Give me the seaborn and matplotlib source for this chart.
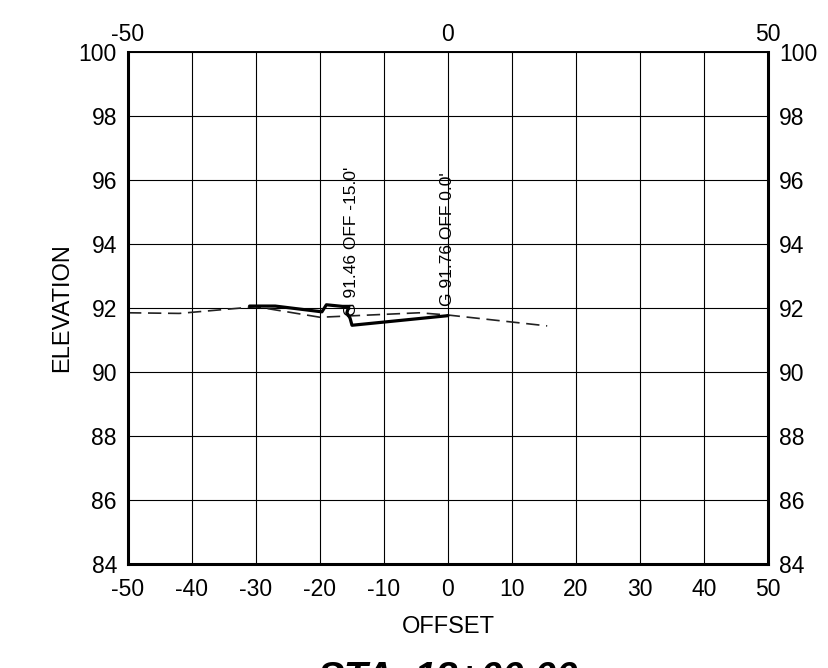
import numpy as np
import pandas as pd
import matplotlib
matplotlib.use("Agg")
import matplotlib.pyplot as plt
import seaborn as sns


# -------------------------
# Data (read off the section)
# -------------------------
existing_offset = [-50, -42, -30, -20, -4.5, 0, 15.5]
existing_elev = [91.85, 91.83, 92.04, 91.71, 91.85, 91.78, 91.44]

proposed_offset = [-31, -27, -19.7, -19, -16.5, -15.5, -15.8, -15.3, -15.0, 0]
proposed_elev = [92.06, 92.06, 91.88, 92.10, 92.05, 92.05, 91.85, 91.68, 91.46, 91.76]

label_offset = [-15.0, 0.0]
label_elev = [91.46, 91.76]
label_text = ["G 91.46 OFF -15.0'", "G 91.76 OFF 0.0'"]

x_ticks = list(range(-50, 51, 10))
x_top_ticks = [-50, 0, 50]
y_ticks = list(range(84, 101, 2))

station = "STA. 13+00.00"


# -------------------------
# Style
# -------------------------
sns.set_style("white")
plt.rcParams["font.family"] = ["Liberation Sans", "DejaVu Sans"]
plt.rcParams["axes.unicode_minus"] = False
plt.rcParams["text.color"] = "black"
plt.rcParams["axes.labelcolor"] = "black"
plt.rcParams["xtick.color"] = "black"
plt.rcParams["ytick.color"] = "black"

existing = pd.DataFrame({"offset": existing_offset, "elev": existing_elev})
proposed = pd.DataFrame({"offset": proposed_offset, "elev": proposed_elev})

fig = plt.figure(figsize=(8.29, 6.68), dpi=100)
ax = fig.add_axes([0.1544, 0.1557, 0.772, 0.7665])

sns.lineplot(data=existing, x="offset", y="elev", sort=False, ax=ax,
             color="#222222", linewidth=1.2, linestyle=(0, (8, 4)))
sns.lineplot(data=proposed, x="offset", y="elev", sort=False, ax=ax,
             color="black", linewidth=2.3)

for x, y, t in zip(label_offset, label_elev, label_text):
    ax.annotate(t, xy=(x, y), xytext=(0, 7), textcoords="offset points",
                rotation=90, ha="center", va="bottom", fontsize=12.5)

ax.set_xlim(-50, 50)
ax.set_ylim(84, 100)
ax.set_xticks(x_ticks)
ax.set_yticks(y_ticks)
ax.grid(True, color="black", linewidth=0.8)
ax.tick_params(length=0, labelsize=16.5, pad=8, labelright=True)
ax.tick_params(axis="x", pad=10)

for side in ["left", "bottom", "right"]:
    ax.spines[side].set_linewidth(2.2)
    ax.spines[side].set_color("black")
ax.spines["top"].set_linewidth(1.4)
ax.spines["top"].set_color("black")

top = ax.secondary_xaxis("top")
top.set_xticks(x_top_ticks)
top.tick_params(length=0, labelsize=16.5, pad=4)
top.spines["top"].set_visible(False)

ax.set_xlabel("OFFSET", fontsize=17, labelpad=11)
ax.set_ylabel("ELEVATION", fontsize=17, labelpad=4)

fig.text(0.5404, 0.011, station, ha="center", va="top",
         fontsize=28, fontweight="bold", fontstyle="italic")

fig.savefig("out.png", dpi=100)
plt.close(fig)
